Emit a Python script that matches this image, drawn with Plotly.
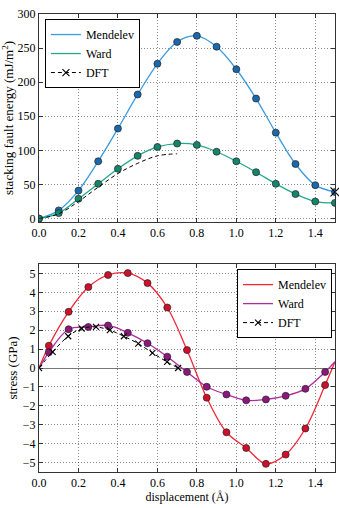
import plotly.graph_objects as go
from plotly.subplots import make_subplots

# stacking fault energy (mJ/m^2) vs displacement
sfe_x = [0.0, 0.1, 0.2, 0.3, 0.4, 0.5, 0.6, 0.7, 0.8, 0.9, 1.0, 1.1, 1.2, 1.3, 1.4, 1.5]
sfe_mendelev = [0, 12, 41, 84, 132, 182, 227, 259, 268, 252, 219, 176, 126, 80, 49, 39]
sfe_ward = [0, 8, 29, 51, 73, 92, 105, 110, 108, 98, 84, 68, 51, 36, 25, 23]
sfe_dft_x = [0.0, 0.1, 0.2, 0.3, 0.4, 0.5, 0.6, 0.7]
sfe_dft = [0, 7, 25, 46, 66, 81, 92, 95]
sfe_dft_end_x = [1.5]
sfe_dft_end = [39]

# stress (GPa) vs displacement
st_x = [0.0, 0.05, 0.15, 0.25, 0.35, 0.45, 0.55, 0.65, 0.75, 0.85, 0.95, 1.05, 1.15, 1.25, 1.35, 1.45, 1.5]
st_mendelev = [0, 1.18, 2.97, 4.28, 4.92, 5.02, 4.49, 3.2, 0.95, -1.57, -3.4, -4.23, -5.07, -4.58, -3.2, -0.9, 0.33]
st_ward = [0, 0.83, 2.05, 2.17, 2.25, 1.86, 1.31, 0.6, -0.21, -0.99, -1.4, -1.71, -1.66, -1.47, -1.1, -0.21, 0.33]
st_dft_x = [0.0, 0.069, 0.148, 0.216, 0.289, 0.359, 0.43, 0.503, 0.575, 0.649, 0.705]
st_dft = [0, 0.85, 1.68, 2.09, 2.17, 2.0, 1.68, 1.29, 0.8, 0.32, 0.0]

FONT = "Liberation Serif, Times New Roman, serif"

fig = make_subplots(rows=2, cols=1)

def curve(x, y, line_col, mark_col, name, row, legend, marked=None):
    # smooth line (shown in legend) + dots on the sampled points
    fig.add_trace(go.Scatter(
        x=x, y=y, name=name, mode="lines", legend=legend,
        line=dict(color=line_col, width=1.3, shape="spline", smoothing=1),
    ), row=row, col=1)
    mx, my = x, y
    if marked is not None:
        mx, my = x[marked], y[marked]
    fig.add_trace(go.Scatter(
        x=mx, y=my, mode="markers", showlegend=False, legend=legend,
        marker=dict(color=mark_col, size=7, line=dict(color="#222", width=0.7)),
    ), row=row, col=1)

dft_line = dict(color="black", width=1, dash="4px,3px", shape="spline")
dft_marker = dict(symbol="x-thin", size=7, color="black", line=dict(color="black", width=1.1))

curve(sfe_x, sfe_mendelev, "#3a9be0", "#1a68ad", "Mendelev", 1, "legend")
curve(sfe_x, sfe_ward, "#22a98a", "#15866c", "Ward", 1, "legend")
fig.add_trace(go.Scatter(x=sfe_dft_x, y=sfe_dft, mode="lines", showlegend=False,
                         line=dft_line), row=1, col=1)
fig.add_trace(go.Scatter(x=sfe_dft_end_x, y=sfe_dft_end, mode="markers", showlegend=False,
                         cliponaxis=False, marker=dict(dft_marker, size=9)), row=1, col=1)
# legend entry for DFT (line + crosses)
fig.add_trace(go.Scatter(x=[None], y=[None], name="DFT", mode="lines+markers", legend="legend",
                         line=dft_line, marker=dft_marker), row=1, col=1)

curve(st_x, st_mendelev, "#f02838", "#d0102a", "Mendelev", 2, "legend2", marked=slice(1, -1))
curve(st_x, st_ward, "#b22aa0", "#8c187e", "Ward", 2, "legend2", marked=slice(1, -1))
fig.add_trace(go.Scatter(
    x=st_dft_x, y=st_dft, name="DFT", mode="lines+markers", legend="legend2",
    line=dft_line, marker=dict(dft_marker, size=6),
), row=2, col=1)

axis_style = dict(
    showline=True, mirror="ticks", linecolor="#333", linewidth=1,
    ticks="inside", ticklen=4, tickcolor="#333", automargin=False,
    showgrid=True, gridcolor="rgba(0,0,0,0.45)", griddash="1px,2px", gridwidth=1,
    tickfont=dict(family=FONT, size=12, color="black"),
)

fig.update_xaxes(axis_style, range=[0, 1.5], dtick=0.2, tickformat=".1f", zeroline=False)
fig.update_yaxes(axis_style)
fig.update_yaxes(range=[-5, 300], dtick=50, zeroline=False, domain=[0.5459, 1],
                 title=dict(text="stacking fault energy (mJ/m<sup>2</sup>)", standoff=2,
                            font=dict(family=FONT, size=13, color="black")), row=1, col=1)
fig.update_yaxes(range=[-5.5, 5.5], dtick=1, zeroline=True, zerolinecolor="#777", zerolinewidth=1,
                 domain=[0, 0.4541],
                 title=dict(text="stress (GPa)", standoff=2,
                            font=dict(family=FONT, size=13, color="black")), row=2, col=1)
fig.update_xaxes(title=dict(text="displacement (Å)", standoff=2,
                            font=dict(family=FONT, size=12, color="black")), row=2, col=1)

legend_style = dict(bgcolor="white", bordercolor="black", borderwidth=1,
                    font=dict(family=FONT, size=12, color="black"),
                    xanchor="left", yanchor="top", tracegroupgap=0)

fig.update_layout(
    width=339, height=508,
    margin=dict(l=39, r=4, t=14, b=36),
    plot_bgcolor="white", paper_bgcolor="white",
    font=dict(family=FONT, size=12, color="black"),
    legend=dict(legend_style, x=0.02, y=0.989),
    legend2=dict(legend_style, x=0.669, y=0.443),
)

# page body has a default 8px margin, drop it so the figure sits at the corner
fig.write_html("out.html", config={"displayModeBar": False},
               post_script="document.body.style.margin='0';")
